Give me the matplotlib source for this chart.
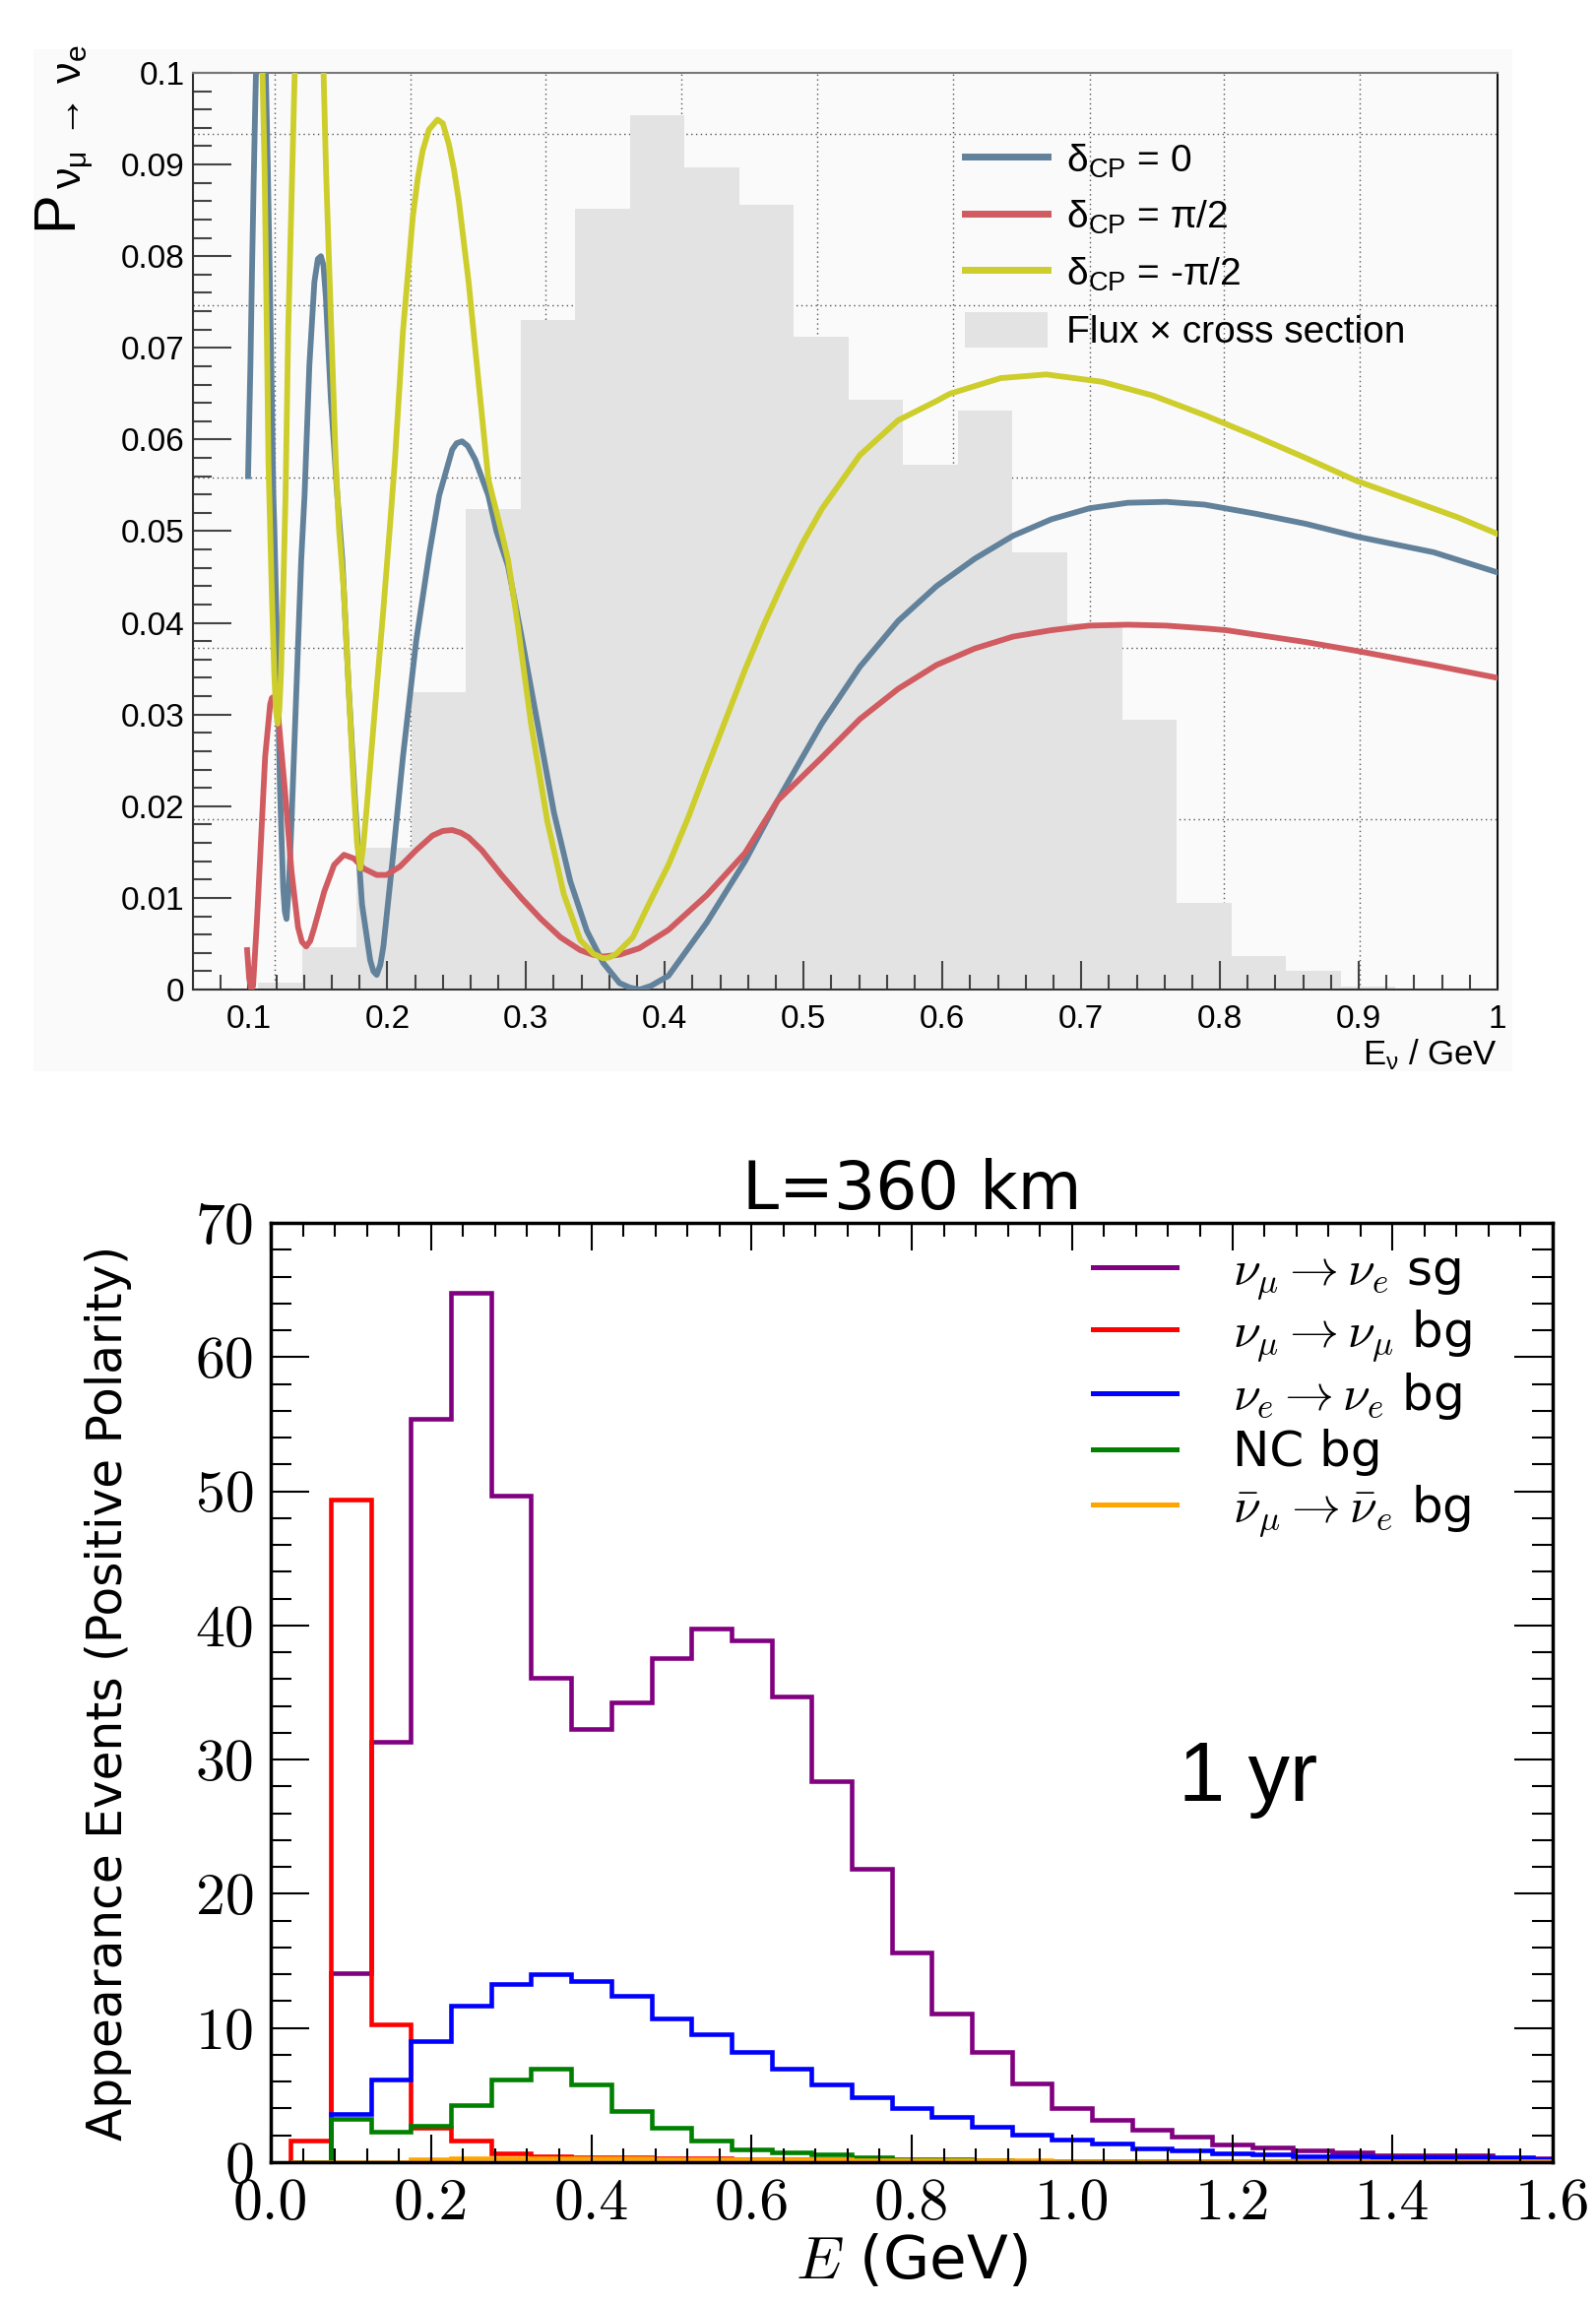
import matplotlib
matplotlib.use("Agg")
import matplotlib.pyplot as plt
import numpy as np
from matplotlib.lines import Line2D
from matplotlib.patches import Patch, Rectangle
from matplotlib.font_manager import FontProperties
from matplotlib.ticker import FixedLocator, MultipleLocator

plt.rcParams['font.family'] = ['Liberation Sans', 'DejaVu Sans']
plt.rcParams['mathtext.fontset'] = 'custom'
plt.rcParams['mathtext.rm'] = 'Liberation Sans'
plt.rcParams['mathtext.it'] = 'Liberation Sans:italic'
plt.rcParams['mathtext.bf'] = 'Liberation Sans:bold'
plt.rcParams['mathtext.sf'] = 'Liberation Sans'

# ---------------- top panel: oscillation probability ----------------
nan = np.nan
# delta_CP = 0
p0_E = [0.0997, 0.1014, 0.1026, 0.1037, 0.1049, 0.1054, nan,
        0.1125, 0.1139, 0.1156, 0.1168, 0.1179, 0.1186, 0.1203, 0.1227, 0.1250, 0.1262,
        0.1274, 0.1290, 0.1310, 0.1345, 0.1380, 0.1404, 0.1439, 0.1475, 0.1500, 0.1522,
        0.1540, 0.1558, 0.1593, 0.1640, 0.1676, 0.1723, 0.1770, 0.1818, 0.1877, 0.1900,
        0.1924, 0.1950, 0.1972, 0.2042, 0.2113, 0.2208, 0.2303, 0.2374, 0.2468, 0.2500,
        0.2539, 0.2580, 0.2634, 0.2728, 0.2787, 0.2870, 0.2965, 0.3083, 0.3201, 0.3319,
        0.3438, 0.3556, 0.3674, 0.3750, 0.3820, 0.3900, 0.4026, 0.4302, 0.4578, 0.4812,
        0.5130, 0.5405, 0.5681, 0.5957, 0.6233, 0.6509, 0.6785, 0.7060, 0.7336, 0.7612,
        0.7888, 0.8260, 0.8620, 0.8990, 0.9540, 1.0000]
p0_P = [0.0560, 0.0682, 0.0789, 0.0879, 0.0968, 0.1000, nan,
        0.1000, 0.0897, 0.0754, 0.0646, 0.0539, 0.0505, 0.0397, 0.0218, 0.0111, 0.0085,
        0.0077, 0.0110, 0.0183, 0.0326, 0.0469, 0.0539, 0.0682, 0.0772, 0.0797, 0.0800,
        0.0790, 0.0754, 0.0646, 0.0539, 0.0469, 0.0326, 0.0200, 0.0093, 0.0032, 0.0020,
        0.0016, 0.0027, 0.0047, 0.0147, 0.0254, 0.0380, 0.0476, 0.0539, 0.0589, 0.0596,
        0.0598, 0.0593, 0.0578, 0.0539, 0.0500, 0.0462, 0.0387, 0.0290, 0.0193, 0.0118,
        0.0064, 0.0029, 0.0007, 0.0002, 0.0000, 0.0004, 0.0015, 0.0073, 0.0140, 0.0206,
        0.0290, 0.0352, 0.0402, 0.0440, 0.0470, 0.0495, 0.0513, 0.0525, 0.0531, 0.0532,
        0.0529, 0.0519, 0.0508, 0.0494, 0.0477, 0.0455]
# delta_CP = pi/2
pp_E = [0.0990, 0.1005, 0.1021, 0.1033, 0.1061, 0.1085, 0.1120, 0.1156, 0.1168, 0.1179,
        0.1195, 0.1215, 0.1262, 0.1310, 0.1357, 0.1385, 0.1416, 0.1445, 0.1475, 0.1546,
        0.1617, 0.1688, 0.1759, 0.1830, 0.1924, 0.1995, 0.2090, 0.2208, 0.2326, 0.2400,
        0.2468, 0.2530, 0.2586, 0.2681, 0.2823, 0.2965, 0.3107, 0.3248, 0.3390, 0.3480,
        0.3556, 0.3674, 0.3816, 0.4026, 0.4302, 0.4578, 0.4812, 0.5130, 0.5405, 0.5681,
        0.5957, 0.6233, 0.6509, 0.6785, 0.7060, 0.7336, 0.7612, 0.7888, 0.8045, 0.8620,
        0.9000, 0.9530, 1.0000]
pp_P = [0.0043, 0.0012, 0.0000, 0.0004, 0.0075, 0.0147, 0.0254, 0.0311, 0.0318, 0.0319,
        0.0313, 0.0297, 0.0218, 0.0129, 0.0068, 0.0052, 0.0047, 0.0053, 0.0068, 0.0107,
        0.0136, 0.0147, 0.0143, 0.0132, 0.0125, 0.0125, 0.0134, 0.0152, 0.0168, 0.0173,
        0.0174, 0.0171, 0.0166, 0.0152, 0.0125, 0.0100, 0.0077, 0.0057, 0.0043, 0.0038,
        0.0036, 0.0038, 0.0045, 0.0065, 0.0103, 0.0149, 0.0206, 0.0253, 0.0295, 0.0328,
        0.0354, 0.0372, 0.0385, 0.0392, 0.0397, 0.0398, 0.0397, 0.0394, 0.0392, 0.0379,
        0.0369, 0.0354, 0.0340]
# delta_CP = -pi/2
pm_E = [0.1101, 0.1116, 0.1132, 0.1144, 0.1168, 0.1186, 0.1198, 0.1210, 0.1222, 0.1234,
        0.1250, 0.1267, 0.1286, 0.1310, 0.1333, nan,
        0.1541, 0.1558, 0.1581, 0.1605, 0.1629, 0.1652, 0.1688, 0.1723, 0.1759, 0.1782,
        0.1806, 0.1828, 0.1853, 0.1912, 0.1972, 0.2019, 0.2054, 0.2113, 0.2184, 0.2220,
        0.2255, 0.2300, 0.2362, 0.2400, 0.2444, 0.2480, 0.2515, 0.2586, 0.2657, 0.2728,
        0.2823, 0.2870, 0.2941, 0.3036, 0.3154, 0.3272, 0.3390, 0.3485, 0.3556, 0.3600,
        0.3650, 0.3769, 0.3887, 0.4026, 0.4164, 0.4302, 0.4440, 0.4578, 0.4716, 0.4854,
        0.4992, 0.5130, 0.5405, 0.5681, 0.5957, 0.6055, 0.6420, 0.6748, 0.7150, 0.7517,
        0.7883, 0.8250, 0.8616, 0.8983, 0.9350, 0.9716, 1.0000]
pm_P = [0.1000, 0.0897, 0.0718, 0.0575, 0.0433, 0.0344, 0.0305, 0.0290, 0.0305, 0.0344,
        0.0433, 0.0539, 0.0718, 0.0861, 0.1000, nan,
        0.1000, 0.0897, 0.0790, 0.0682, 0.0575, 0.0503, 0.0433, 0.0326, 0.0218, 0.0160,
        0.0132, 0.0158, 0.0200, 0.0308, 0.0415, 0.0505, 0.0575, 0.0718, 0.0843, 0.0885,
        0.0915, 0.0938, 0.0949, 0.0945, 0.0922, 0.0895, 0.0861, 0.0772, 0.0664, 0.0557,
        0.0499, 0.0469, 0.0397, 0.0290, 0.0183, 0.0104, 0.0054, 0.0039, 0.0034, 0.0035,
        0.0039, 0.0057, 0.0094, 0.0136, 0.0186, 0.0241, 0.0295, 0.0349, 0.0399, 0.0445,
        0.0487, 0.0524, 0.0583, 0.0621, 0.0642, 0.0650, 0.0667, 0.0671, 0.0663, 0.0648,
        0.0627, 0.0604, 0.0580, 0.0555, 0.0535, 0.0515, 0.0497]

flux_edges = [0.107, 0.1384, 0.1778, 0.2172, 0.2566, 0.2960, 0.3354, 0.3748, 0.4142,
              0.4536, 0.4930, 0.5324, 0.5718, 0.6112, 0.6506, 0.6900, 0.7294, 0.7688,
              0.8082, 0.8476, 0.8870, 0.9264]
flux_vals = [0.0007, 0.0046, 0.0155, 0.0324, 0.0524, 0.0730, 0.0852, 0.0954, 0.0897,
             0.0856, 0.0712, 0.0643, 0.0573, 0.0632, 0.0477, 0.0400, 0.0294, 0.0095,
             0.0036, 0.0020, 0.0003]

grid_x = [0.119, 0.2165, 0.314, 0.412, 0.510, 0.608, 0.706, 0.803, 0.901]
grid_y = [0.0186, 0.0373, 0.0559, 0.0746, 0.0933]

top_xticks = [0.1, 0.2, 0.3, 0.4, 0.5, 0.6, 0.7, 0.8, 0.9, 1.0]
top_xlabels = ['0.1', '0.2', '0.3', '0.4', '0.5', '0.6', '0.7', '0.8', '0.9', '1']
top_yticks = [0.0, 0.01, 0.02, 0.03, 0.04, 0.05, 0.06, 0.07, 0.08, 0.09, 0.1]
top_ylabels = ['0', '0.01', '0.02', '0.03', '0.04', '0.05', '0.06', '0.07', '0.08', '0.09', '0.1']

# ---------------- bottom panel: event spectra ----------------
ev_edges = [0.025, 0.075, 0.125, 0.175, 0.225, 0.275, 0.325, 0.375, 0.425, 0.475, 0.525,
            0.575, 0.625, 0.675, 0.725, 0.775, 0.825, 0.875, 0.925, 0.975, 1.025, 1.075,
            1.125, 1.175, 1.225, 1.275, 1.325, 1.375, 1.425, 1.475, 1.525, 1.575, 1.625]
sig_numu_nue = [0.0, 14.1, 31.3, 55.4, 64.8, 49.7, 36.1, 32.3, 34.3, 37.6, 39.8, 38.9,
                34.7, 28.4, 21.9, 15.6, 11.1, 8.2, 5.85, 4.0, 3.15, 2.4, 1.9, 1.33,
                1.08, 0.88, 0.7, 0.53, 0.53, 0.53, 0.33, 0.33]
bg_numu_numu = [1.6, 49.4, 10.3, 2.6, 1.6, 0.65, 0.45, 0.4, 0.35, 0.3, 0.3, 0.25,
                0.25, 0.2, 0.2, 0.15, 0.15, 0.15, 0.1, 0.1, 0.1, 0.1, 0.08, 0.08,
                0.08, 0.06, 0.06, 0.06, 0.05, 0.05, 0.05, 0.05]
bg_nue_nue = [0.0, 3.6, 6.2, 9.0, 11.7, 13.3, 14.0, 13.5, 12.4, 10.7, 9.55, 8.2,
              7.0, 5.8, 4.85, 4.03, 3.35, 2.67, 2.09, 1.66, 1.41, 1.03, 0.91, 0.63,
              0.58, 0.45, 0.45, 0.4, 0.4, 0.4, 0.4, 0.2]
bg_nc = [0.0, 3.2, 2.25, 2.75, 4.25, 6.2, 7.0, 5.8, 3.8, 2.6, 1.6, 0.95,
         0.75, 0.6, 0.35, 0.25, 0.2, 0.15, 0.1, 0.1, 0.08, 0.06, 0.05, 0.05,
         0.04, 0.04, 0.03, 0.03, 0.03, 0.02, 0.02, 0.02]
bg_antinumu = [0.0, 0.0, 0.0, 0.25, 0.3, 0.3, 0.3, 0.3, 0.3, 0.25, 0.25, 0.2,
               0.2, 0.2, 0.15, 0.15, 0.15, 0.12, 0.12, 0.1, 0.1, 0.1, 0.1, 0.08,
               0.08, 0.08, 0.08, 0.08, 0.08, 0.08, 0.08, 0.08]

bot_xticks = [0.0, 0.2, 0.4, 0.6, 0.8, 1.0, 1.2, 1.4, 1.6]
bot_xlabels = ['0.0', '0.2', '0.4', '0.6', '0.8', '1.0', '1.2', '1.4', '1.6']
bot_yticks = [0, 10, 20, 30, 40, 50, 60, 70]
bot_ylabels = ['0', '10', '20', '30', '40', '50', '60', '70']

W, H = 1621, 2339
fig = plt.figure(figsize=(W / 100, H / 100), dpi=100)

# faint ROOT canvas behind the top panel
fig.patches.append(Rectangle((34 / W, 1 - 1088 / H), 1502 / W, 1038 / H,
                             transform=fig.transFigure, facecolor='#fafafa',
                             edgecolor='none', zorder=-5))

ax1 = fig.add_axes([196 / W, 1 - 1005 / H, 1325 / W, 931 / H])
ax1.set_facecolor('none')
for gx in grid_x:
    ax1.axvline(gx, color='#555555', lw=1.0, ls=(0, (1, 2.5)), zorder=0.5)
for gy in grid_y:
    ax1.axhline(gy, color='#555555', lw=1.0, ls=(0, (1, 2.5)), zorder=0.5)
ax1.stairs(flux_vals, flux_edges, fill=True, color='#e3e3e3', lw=0, zorder=1)

c_zero, c_plus, c_minus = '#62819a', '#d05b60', '#cdcd2c'
ax1.plot(p0_E, p0_P, color=c_zero, lw=4.2, zorder=3)
ax1.plot(pp_E, pp_P, color=c_plus, lw=4.2, zorder=3)
ax1.plot(pm_E, pm_P, color=c_minus, lw=4.2, zorder=3)

ax1.set_xlim(0.06, 1.0)
ax1.set_ylim(0, 0.1)
ax1.xaxis.set_major_locator(FixedLocator(top_xticks))
ax1.set_xticklabels(top_xlabels)
ax1.xaxis.set_minor_locator(MultipleLocator(0.02))
ax1.yaxis.set_major_locator(FixedLocator(top_yticks))
ax1.set_yticklabels(top_ylabels)
ax1.yaxis.set_minor_locator(MultipleLocator(0.002))
ax1.tick_params(axis='both', which='both', direction='in', color='#444444', width=1.5,
                labelsize=24, top=False, right=False)
ax1.tick_params(axis='x', which='major', length=21, pad=11)
ax1.tick_params(axis='x', which='minor', length=10.5)
ax1.tick_params(axis='y', which='major', length=28, pad=6)
ax1.tick_params(axis='y', which='minor', length=13.5)
for side, col in [('left', '#333333'), ('bottom', '#333333'), ('top', '#777777'), ('right', '#111111')]:
    ax1.spines[side].set_color(col)
    ax1.spines[side].set_linewidth(1.5)

fig.text(1521 / W, 1 - 1081 / H, r'E$_{\mathrm{ν}}$ / GeV', ha='right', va='baseline', fontsize=25)
# y title: large P with its subscript
fig.text(57 / W, 1 - 233 / H, 'P', rotation=90, ha='center', va='bottom', fontsize=43)
fig.text(78 / W, 1 - 45 / H, r'ν$_{\mathrm{μ}}$ → ν$_{\mathrm{e}}$', rotation=90,
         ha='center', va='top', fontsize=31)

h_top = [Line2D([], [], color=c_zero, lw=5), Line2D([], [], color=c_plus, lw=5),
         Line2D([], [], color=c_minus, lw=5), Patch(facecolor='#e3e3e3', edgecolor='none')]
l_top = [r'δ$_{\mathrm{CP}}$ = 0', r'δ$_{\mathrm{CP}}$ = π/2', r'δ$_{\mathrm{CP}}$ = -π/2',
         'Flux × cross section']
ax1.legend(h_top, l_top, loc='upper left', bbox_to_anchor=(980 / W, 1 - 143 / H),
           bbox_transform=fig.transFigure, frameon=False, fontsize=28,
           handlelength=2.15, handleheight=1.05, handletextpad=0.5, labelspacing=0.47,
           borderpad=0, borderaxespad=0)

# ---------------- bottom panel ----------------
ax2 = fig.add_axes([275 / W, 1 - 2196 / H, 1302 / W, 954 / H])
series = [(sig_numu_nue, '#800080'), (bg_numu_numu, '#ff0000'), (bg_nue_nue, '#0000ff'),
          (bg_nc, '#008000'), (bg_antinumu, '#ffa500')]
for vals, col in series:
    ax2.stairs(vals, ev_edges, color=col, lw=3.3, baseline=0)

ax2.set_xlim(0, 1.6)
ax2.set_ylim(0, 70)
ax2.xaxis.set_major_locator(FixedLocator(bot_xticks))
ax2.set_xticklabels(bot_xlabels)
ax2.xaxis.set_minor_locator(MultipleLocator(0.04))
ax2.yaxis.set_major_locator(FixedLocator(bot_yticks))
ax2.set_yticklabels(bot_ylabels)
ax2.yaxis.set_minor_locator(MultipleLocator(2))
ax2.tick_params(axis='both', which='both', direction='in', top=True, right=True,
                color='black', width=1.5, labelsize=43, labelfontfamily='cmr10')
ax2.tick_params(axis='x', which='major', length=20.5, pad=12)
ax2.tick_params(axis='x', which='minor', length=10)
ax2.tick_params(axis='y', which='major', length=28, pad=12)
ax2.tick_params(axis='y', which='minor', length=15)
for side in ['left', 'bottom', 'top', 'right']:
    ax2.spines[side].set_linewidth(2.5)

ax2.set_title('L=360 km', fontsize=48, family='DejaVu Sans', pad=10)
fig.text(110 / W, 1 - 1719 / H, 'Appearance Events (Positive Polarity)', rotation=90,
         ha='center', va='center', fontsize=35, family='DejaVu Sans')
fig.text(926 / W, 1 - 2314 / H, r'$E$ (GeV)', ha='center', va='baseline', fontsize=44,
         family='DejaVu Sans', math_fontfamily='cm')
ax2.text(1.133, 26.9, '1 yr', fontsize=61, family='Liberation Sans', ha='left', va='baseline')

h_bot = [Line2D([], [], color=col, lw=3.6) for _, col in series]
l_bot = [r'$\nu_\mu \rightarrow \nu_e$ sg', r'$\nu_\mu \rightarrow \nu_\mu$ bg',
         r'$\nu_e \rightarrow \nu_e$ bg', 'NC bg', r'$\bar{\nu}_\mu \rightarrow \bar{\nu}_e$ bg']
ax2.legend(h_bot, l_bot, loc='upper left', bbox_to_anchor=(1110 / W, 1 - 1266 / H),
           bbox_transform=fig.transFigure, frameon=False,
           prop=FontProperties(family='DejaVu Sans', size=36, math_fontfamily='cm'),
           handlelength=1.7, handletextpad=1.15, labelspacing=0.14,
           borderpad=0, borderaxespad=0)

fig.savefig('out.png', dpi=100)
